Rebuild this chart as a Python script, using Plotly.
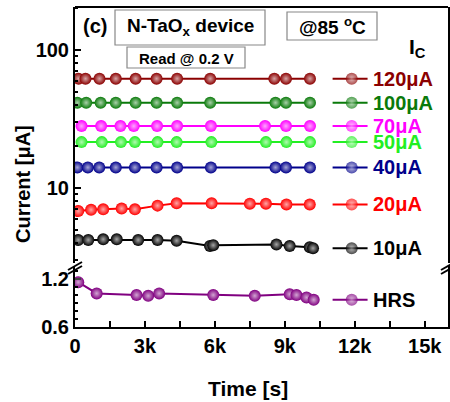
import plotly.graph_objects as go
import math

# ---------------- data ----------------
labels = ["120\u03bcA", "100\u03bcA", "70\u03bcA", "50\u03bcA", "40\u03bcA", "20\u03bcA", "10\u03bcA"]
colors = ["#8b0000", "#0a7a0a", "#ff00ff", "#22ee22", "#00008b", "#ff0000", "#000000"]

t_120 = [150, 450, 1050, 1750, 2600, 3500, 4380, 5800, 8550, 9050, 10080]
v_120 = [62, 62, 62, 62, 62, 62, 62, 62, 62, 62, 62]
t_100 = [100, 480, 1100, 1750, 2600, 3500, 4380, 5800, 8600, 9050, 10080]
v_100 = [41.5, 41.5, 41.5, 41.5, 41.5, 41.5, 41.5, 41.5, 41.5, 41.5, 41.5]
t_70 = [280, 1120, 1950, 2520, 3520, 4380, 5830, 8150, 9050, 10080]
v_70 = [28.1, 28.1, 28.1, 28.1, 28.1, 28.1, 28.1, 28.1, 28.1, 28.1]
t_50 = [280, 1150, 1970, 2570, 3540, 4360, 5850, 8190, 9070, 10080]
v_50 = [21.5, 21.5, 21.5, 21.5, 21.5, 21.5, 21.5, 21.5, 21.5, 21.5]
t_40 = [100, 550, 1040, 1750, 2570, 3500, 4380, 5830, 8600, 9050, 10080]
v_40 = [14.1, 14.1, 14.1, 14.1, 14.1, 14.1, 14.1, 14.1, 14.1, 14.1, 14.1]
t_20 = [140, 690, 1210, 2000, 2570, 3540, 4360, 5860, 7500, 8190, 9070, 10070]
v_20 = [6.8, 6.95, 7.0, 7.1, 7.0, 7.45, 7.75, 7.75, 7.7, 7.7, 7.6, 7.6]
t_10 = [140, 570, 1210, 1790, 2710, 3540, 4360, 5790, 5930, 8640, 9210, 10070, 10210]
v_10 = [4.2, 4.2, 4.25, 4.25, 4.2, 4.2, 4.15, 3.8, 3.85, 3.9, 3.8, 3.72, 3.66]

t_hrs = [140, 930, 2640, 3140, 3610, 5930, 7710, 9210, 9500, 9930, 10240]
v_hrs = [1.16, 1.02, 1.0, 0.99, 1.02, 1.0, 0.99, 1.01, 1.0, 0.97, 0.94]
hrs_label = "HRS"
hrs_color = "#800080"

x_tickvals = [0, 1500, 3000, 4500, 6000, 7500, 9000, 10500, 12000, 13500, 15000]
x_ticktext = ["0", "", "3k", "", "6k", "", "9k", "", "12k", "", "15k"]

series_t = [t_120, t_100, t_70, t_50, t_40, t_20, t_10]
series_v = [v_120, v_100, v_70, v_50, v_40, v_20, v_10]

# legend sample positions along time axis
LEG_X = [11050, 11870, 12550]
LEG_TEXT_X = 12700

FONT = "Liberation Sans, Arial, sans-serif"


def tint(hexcol, f=0.65):
    r, g, b = int(hexcol[1:3], 16), int(hexcol[3:5], 16), int(hexcol[5:7], 16)
    r, g, b = [int(c + (255 - c) * f) for c in (r, g, b)]
    return "#%02x%02x%02x" % (r, g, b)


fig = go.Figure()


def add_series(t, v, color, yaxis):
    mk = dict(color=color, gradient=dict(type="radial", color=tint(color)), line=dict(width=0))
    fig.add_trace(go.Scatter(
        x=t, y=v, mode="lines+markers", yaxis=yaxis,
        line=dict(color=color, width=2),
        marker=dict(size=12, **mk),
        showlegend=False, hoverinfo="skip"))
    last = v[-1]
    fig.add_trace(go.Scatter(
        x=LEG_X, y=[last] * 3, mode="lines+markers", yaxis=yaxis,
        line=dict(color=color, width=2),
        marker=dict(size=[0, 12, 0], **mk),
        showlegend=False, hoverinfo="skip", cliponaxis=False))


for t, v, c in zip(series_t, series_v, colors):
    add_series(t, v, c, "y2")
add_series(t_hrs, v_hrs, hrs_color, "y")

annotations = []
for v, c, lab in zip(series_v, colors, labels):
    annotations.append(dict(x=LEG_TEXT_X, y=math.log10(v[-1]), xref="x", yref="y2",
                            text="<b>%s</b>" % lab, showarrow=False, xanchor="left", yanchor="middle",
                            font=dict(family=FONT, size=20, color=c)))
annotations.append(dict(x=LEG_TEXT_X, y=v_hrs[-1], xref="x", yref="y",
                        text="<b>%s</b>" % hrs_label, showarrow=False, xanchor="left", yanchor="middle",
                        font=dict(family=FONT, size=20, color="black")))

# plot area in pixels: left 75, right 448, top 7, bottom 327
L, R, T, B = 75, 448, 7, 327


def px(x):
    return (x - L) / (R - L)


def py(y):
    return (B - y) / (B - T)


def txt(x, y, s, size, **kw):
    d = dict(x=px(x), y=py(y), xref="paper", yref="paper", text=s, showarrow=False,
             font=dict(family=FONT, size=size, color="black"), xanchor="center", yanchor="middle")
    d.update(kw)
    annotations.append(d)


txt(95, 26, "<b>(c)</b>", 20)
txt(190, 27, "<b>N-TaO<sub>x</sub> device</b>", 19)
txt(186, 58, "<b>Read @ 0.2 V</b>", 15)
txt(332, 26, "<b>@85 <sup>o</sup>C</b>", 19)
txt(417, 48, "<b>I<sub>C</sub></b>", 21)
txt(248, 388, "<b>Time [s]</b>", 21)
txt(23, 184, "<b>Current [\u03bcA]</b>", 20, textangle=-90)

shapes = []


def rect(x0, y0, x1, y1):
    shapes.append(dict(type="rect", xref="paper", yref="paper",
                       x0=px(x0), x1=px(x1), y0=py(y1), y1=py(y0),
                       line=dict(color="#888888", width=1.2), fillcolor="white", layer="below"))


rect(115, 10, 265, 45)
rect(127, 47, 245, 68)
rect(287, 12, 377, 40)

# top frame line
shapes.append(dict(type="line", xref="paper", yref="paper", x0=0, x1=1, y0=1, y1=1,
                   line=dict(color="black", width=2)))
# axis break marks
for xc in (L, R):
    for dy in (0, 4):
        shapes.append(dict(type="line", xref="paper", yref="paper",
                           x0=px(xc - 7), x1=px(xc + 7), y0=py(270 + dy), y1=py(262 + dy),
                           line=dict(color="black", width=2)))

bold = lambda lst: ["<b>%s</b>" % s if s else "" for s in lst]

fig.update_layout(
    width=450, height=402,
    margin=dict(l=L, r=450 - R, t=T, b=402 - B, autoexpand=False),
    paper_bgcolor="white", plot_bgcolor="white",
    font=dict(family=FONT, size=20, color="black"),
    annotations=annotations, shapes=shapes,
    xaxis=dict(range=[0, 16000], showline=True, linecolor="black", linewidth=2,
               ticks="inside", ticklen=6, tickwidth=2, tickcolor="black",
               tickvals=x_tickvals, ticktext=bold(x_ticktext), showgrid=False, zeroline=False,
               tickfont=dict(family=FONT, size=20), anchor="y", automargin=False),
    yaxis=dict(domain=[0, 0.19], range=[0.6, 1.36], showline=True, mirror=True,
               linecolor="black", linewidth=2, ticks="inside", ticklen=6, tickwidth=2,
               tickvals=[0.6, 1.2], ticktext=bold(["0.6", "1.2"]), showgrid=False, zeroline=False,
               minor=dict(tickvals=[0.7, 0.8, 0.9, 1.0, 1.1, 1.3], ticks="inside", ticklen=3,
                          tickwidth=1.5, tickcolor="black"),
               tickfont=dict(family=FONT, size=20), anchor="x", automargin=False),
    yaxis2=dict(domain=[0.2, 1], type="log", range=[math.log10(2.86), math.log10(205)],
                showline=True, mirror=True, linecolor="black", linewidth=2,
                ticks="inside", ticklen=6, tickwidth=2, tickcolor="black",
                tickvals=[10, 100], ticktext=bold(["10", "100"]), showgrid=False, zeroline=False,
                minor=dict(tickvals=[3, 4, 5, 6, 7, 8, 9, 20, 30, 40, 50, 60, 70, 80, 90, 200],
                           ticks="inside", ticklen=3, tickwidth=1.5, tickcolor="black"),
                tickfont=dict(family=FONT, size=20), anchor="x", automargin=False),
)

fig.write_html("out.html", config={"displayModeBar": False},
               post_script="document.body.style.margin='0';document.body.style.overflow='hidden';")
